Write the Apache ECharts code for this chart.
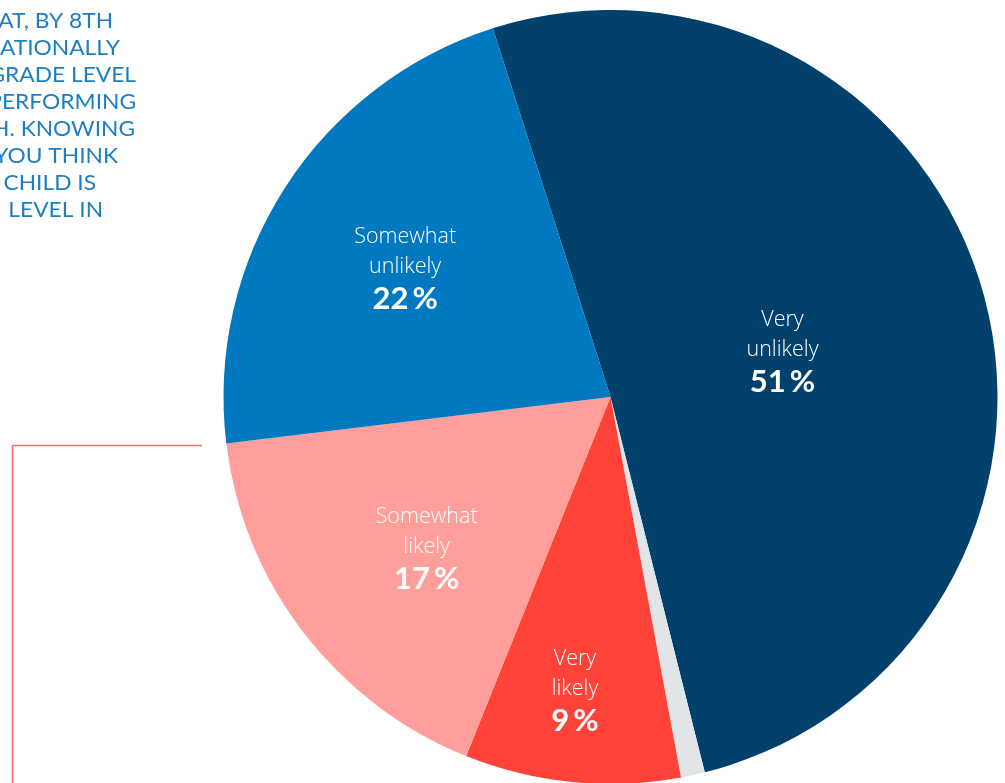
<!DOCTYPE html>
<html>
<head>
<meta charset="utf-8">
<script src="https://cdn.jsdelivr.net/npm/echarts@6/dist/echarts.min.js"></script>
<style>
  html, body { margin: 0; padding: 0; background: #ffffff; }
  #chart { width: 1005px; height: 783px; }
</style>
</head>
<body>
<div id="chart"></div>
<script>
// Survey answer categories, in drawing order (clockwise)
const categories = ['Very unlikely', 'No answer', 'Very likely', 'Somewhat likely', 'Somewhat unlikely'];
// Share of respondents, percent
const shares = [51, 1, 9, 17, 22];
// Slice colours
const colors = ['#02416B', '#E2E5E8', '#FF4338', '#FF9E9B', '#0079C1'];
// Visible lines of the question text
const questionLines = ['AT, BY 8TH', 'ATIONALLY', 'GRADE LEVEL', 'PERFORMING', 'H. KNOWING', 'YOU THINK', 'CHILD IS', 'LEVEL IN'];
// Right edge of each question line
const questionRight = [113, 120, 136, 136, 135, 118, 96, 103];
// Pixel nudges of the in-slice labels
const labelOffsets = [[-17, 9], [0, 0], [-16, 98], [-28, 32], [-40, -22]];

const chart = echarts.init(document.getElementById('chart'), null, { renderer: 'canvas' });

const data = categories.map((name, i) => ({
  name: name,
  value: shares[i],
  itemStyle: { color: colors[i] },
  label: { show: name !== 'No answer', offset: labelOffsets[i] }
}));

// question text, right-aligned and stretched a little horizontally
const graphics = questionLines.map((line, i) => ({
  type: 'text',
  x: questionRight[i],
  y: 21.5 + i * 27,
  scaleX: 1.11,
  style: {
    text: line,
    fill: '#1C7EC3',
    fontFamily: 'Lato',
    fontSize: 20.5,
    fontWeight: 400,
    align: 'right',
    verticalAlign: 'middle'
  }
}));
// red bracket line on the left
graphics.push({
  type: 'polyline',
  shape: { points: [[12.5, 800], [12.5, 445.5], [202, 445.5]] },
  style: { stroke: '#FF6A64', lineWidth: 1.5, fill: null }
});

chart.setOption({
  animation: false,
  backgroundColor: '#ffffff',
  graphic: graphics,
  series: [{
    type: 'pie',
    center: [610.5, 397],
    radius: [0, 387],
    startAngle: 107.7,
    clockwise: true,
    silent: true,
    data: data,
    labelLine: { show: false },
    label: {
      position: 'inside',
      color: '#ffffff',
      formatter: p => {
        const words = p.name.split(' ');
        return words.map(w => '{t|' + w + '}').join('\n') + '\n{n|' + p.value + '}{c|%}';
      },
      rich: {
        t: { fontFamily: 'Open Sans', fontSize: 21.5, fontWeight: 300, lineHeight: 30, color: '#ffffff' },
        n: { fontFamily: 'Lato', fontSize: 31, fontWeight: 700, lineHeight: 34, color: '#ffffff' },
        c: { fontFamily: 'Lato', fontSize: 31, fontWeight: 700, lineHeight: 34, color: '#ffffff', padding: [0, 0, 0, 4] }
      }
    }
  }]
});
</script>
</body>
</html>
